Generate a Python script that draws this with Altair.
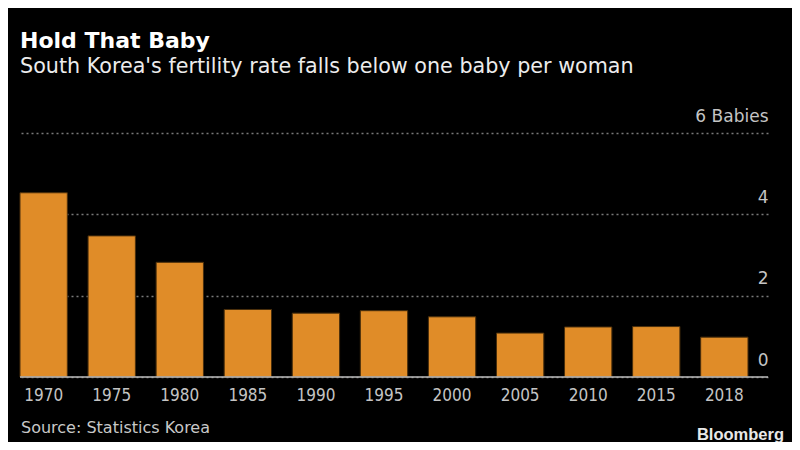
import altair as alt
import pandas as pd

years = ["1970", "1975", "1980", "1985", "1990", "1995", "2000", "2005", "2010", "2015", "2018"]
rates = [4.53, 3.47, 2.82, 1.66, 1.57, 1.63, 1.48, 1.08, 1.23, 1.24, 0.98]
y_ticks = [0, 2, 4, 6]

df = pd.DataFrame({"year": years, "rate": rates})

FONT_C = "DejaVu Sans Condensed"
FONT = "DejaVu Sans"
W, H = 748, 244

bars = alt.Chart(df).mark_bar(color="#E08C28", stroke="#4a2f0c", strokeWidth=1).encode(
    x=alt.X("year:N", sort=years,
            scale=alt.Scale(paddingInner=0.305, paddingOuter=0.147, align=0),
            axis=alt.Axis(title=None, labelAngle=0, domain=False, ticks=False,
                          labelPadding=10, labelFontSize=17, labelColor="#c4c4c4",
                          labelFont=FONT_C)),
    y=alt.Y("rate:Q", scale=alt.Scale(domain=[0, 6], nice=False),
            axis=alt.Axis(title=None, orient="right", values=y_ticks, domain=False,
                          ticks=False, tickSize=0, labelPadding=0, labelAlign="right",
                          labelBaseline="alphabetic", labelOffset=-12,
                          labelFontSize=17, labelColor="#c4c4c4", labelFont=FONT,
                          labelExpr="datum.value == 6 ? '6 Babies' : datum.label",
                          grid=True, gridColor="#7a7a7a", gridDash=[2, 3],
                          gridWidth=1.5)),
)

base = alt.Chart(pd.DataFrame({"v": [0]})).mark_rule(color="#bdbdbd", strokeWidth=1.5).encode(
    y=alt.Y("v:Q")
)

source = alt.Chart(pd.DataFrame({"t": ["Source: Statistics Korea"]})).mark_text(
    align="left", baseline="alphabetic", font=FONT, fontSize=16, color="#c8c8c8"
).encode(text="t:N", x=alt.value(1), y=alt.value(300))

logo = alt.Chart(pd.DataFrame({"t": ["Bloomberg"]})).mark_text(
    align="right", baseline="alphabetic", font="Liberation Sans", fontWeight="bold",
    fontSize=16.5, color="#e8e8e8"
).encode(text="t:N", x=alt.value(764), y=alt.value(307))

chart = alt.layer(bars, base, source, logo).properties(
    width=W, height=H,
    title=alt.TitleParams(
        text="Hold That Baby",
        subtitle="South Korea's fertility rate falls below one baby per woman",
        anchor="start", frame="group", font=FONT, fontSize=22, fontWeight="bold",
        color="#ffffff", subtitleFont=FONT, subtitleFontSize=20.7,
        subtitleColor="#ececec", subtitlePadding=4, offset=29,
    ),
    autosize=alt.AutoSizeParams(type="none"),
    padding={"left": 12, "top": 125, "right": 24, "bottom": 65},
    background="#000000",
).configure_view(stroke=None)

chart.save("out.html", embed_options={"renderer": "svg", "actions": False})
